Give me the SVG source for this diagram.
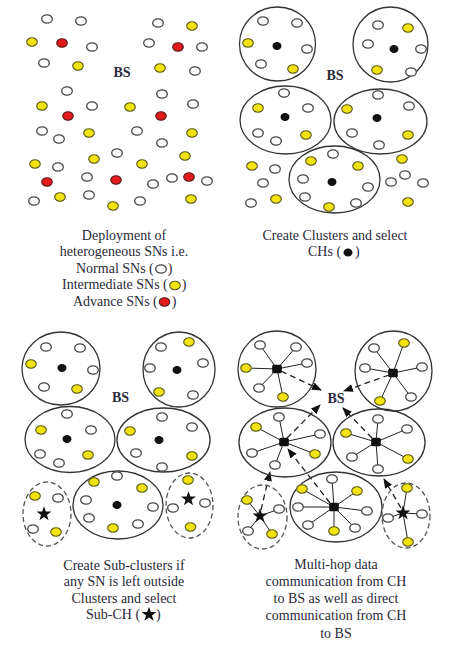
<svg xmlns="http://www.w3.org/2000/svg" xmlns:xlink="http://www.w3.org/1999/xlink" width="450" height="649" viewBox="0 0 450 649">
<style>
.w{fill:#fff;stroke:#484848;stroke-width:1.3}
.y{fill:#f3e310;stroke:#5c5a1c;stroke-width:1.1}
.r{fill:#e21a1a;stroke:#5a1c1c;stroke-width:1.1}
.k{fill:#111}
.cl{fill:none;stroke:#333;stroke-width:1.3}
.sub{fill:none;stroke:#555;stroke-width:1.3;stroke-dasharray:5 3}
.sp{stroke:#222;stroke-width:1;fill:none}
.da{stroke:#222;stroke-width:1.3;stroke-dasharray:6 4;fill:none;marker-end:url(#ah)}
text{font-family:"Liberation Serif","Times New Roman",serif;font-size:14px;fill:#2a2a3a}
.bs{font-weight:bold;text-anchor:middle}
.c{text-anchor:middle}
</style>
<defs>
<ellipse id="W" class="w" rx="5.3" ry="4.2"/>
<ellipse id="Y" class="y" rx="5.3" ry="4.2"/>
<ellipse id="R" class="r" rx="5.3" ry="4.2"/>
<ellipse id="K" class="k" rx="4.5" ry="4"/>
<rect id="Q" class="k" x="-4.8" y="-4.2" width="9.6" height="8.4" rx="1.5"/>
<path id="S" class="k" d="M0,-7.8L1.83,-2.52L7.42,-2.41L2.97,0.96L4.58,6.31L0,3.12L-4.58,6.31L-2.97,0.96L-7.42,-2.41L-1.83,-2.52Z"/>
<marker id="ah" markerUnits="userSpaceOnUse" markerWidth="10" markerHeight="8" refX="9" refY="4" orient="auto" viewBox="0 0 10 8"><path d="M0,0L10,4L0,8Z" fill="#111"/></marker>
</defs>
<rect width="450" height="649" fill="#fff"/>

<!-- Panel 1: deployment -->
<g id="panel1">
<text class="bs" x="122" y="77">BS</text>
<g id="p1-nodes">
<use xlink:href="#W" x="47" y="19"/><use xlink:href="#W" x="81" y="21"/><use xlink:href="#W" x="158" y="23"/><use xlink:href="#Y" x="192" y="26"/>
<use xlink:href="#Y" x="32" y="42"/><use xlink:href="#R" x="62" y="43"/><use xlink:href="#W" x="92" y="47"/><use xlink:href="#W" x="149" y="43"/><use xlink:href="#R" x="178" y="47"/><use xlink:href="#W" x="202" y="47"/>
<use xlink:href="#W" x="44" y="63"/><use xlink:href="#Y" x="78" y="66"/><use xlink:href="#Y" x="160" y="68"/><use xlink:href="#W" x="195" y="71"/>
<use xlink:href="#W" x="67" y="91"/><use xlink:href="#W" x="162" y="94"/>
<use xlink:href="#Y" x="42" y="106"/><use xlink:href="#W" x="92" y="106"/><use xlink:href="#Y" x="130" y="107"/><use xlink:href="#W" x="193" y="104"/>
<use xlink:href="#R" x="68" y="116"/><use xlink:href="#R" x="161" y="116"/>
<use xlink:href="#W" x="42" y="131"/><use xlink:href="#W" x="59" y="139"/><use xlink:href="#Y" x="89" y="133"/><use xlink:href="#W" x="137" y="131"/><use xlink:href="#Y" x="192" y="133"/>
<use xlink:href="#W" x="162" y="143"/>
<use xlink:href="#W" x="117" y="153"/><use xlink:href="#Y" x="94" y="159"/><use xlink:href="#Y" x="185" y="156"/>
<use xlink:href="#Y" x="35" y="164"/><use xlink:href="#W" x="58" y="167"/><use xlink:href="#Y" x="142" y="164"/>
<use xlink:href="#W" x="87" y="177"/><use xlink:href="#R" x="47" y="182"/><use xlink:href="#R" x="116" y="180"/><use xlink:href="#W" x="153" y="184"/><use xlink:href="#W" x="172" y="178"/><use xlink:href="#R" x="189" y="177"/><use xlink:href="#W" x="207" y="181"/>
<use xlink:href="#W" x="34" y="201"/><use xlink:href="#Y" x="60" y="197"/><use xlink:href="#W" x="89" y="195"/><use xlink:href="#Y" x="113" y="206"/><use xlink:href="#W" x="140" y="201"/><use xlink:href="#Y" x="191" y="199"/>
</g>
<g id="caption1">
<text class="c" x="124" y="240">Deployment of</text>
<text class="c" x="124" y="256">heterogeneous SNs i.e.</text>
<text x="76" y="273">Normal SNs (<tspan dx="14">)</tspan></text>
<use xlink:href="#W" x="161" y="269"/>
<text x="62" y="289">Intermediate SNs (<tspan dx="14">)</tspan></text>
<use xlink:href="#Y" x="175" y="285.5"/>
<text x="73" y="306">Advance SNs (<tspan dx="14">)</tspan></text>
<use xlink:href="#R" x="164.5" y="302"/>
</g>
</g>

<!-- Panel 2: clusters -->
<g id="panel2">
<text class="bs" x="335" y="80">BS</text>
<g id="p2-c1"><ellipse class="cl" cx="277.5" cy="44" rx="38" ry="37"/>
<use xlink:href="#W" x="263" y="21"/><use xlink:href="#W" x="297" y="23"/><use xlink:href="#Y" x="248" y="43"/><use xlink:href="#K" x="277" y="46"/><use xlink:href="#W" x="307" y="49"/><use xlink:href="#W" x="261" y="64"/><use xlink:href="#Y" x="293" y="69"/></g>
<g id="p2-c2"><ellipse class="cl" cx="390.5" cy="44.5" rx="37.5" ry="37.5"/>
<use xlink:href="#W" x="378" y="25"/><use xlink:href="#Y" x="408" y="28"/><use xlink:href="#W" x="368" y="44"/><use xlink:href="#K" x="394" y="49"/><use xlink:href="#W" x="421" y="49"/><use xlink:href="#Y" x="377" y="70"/><use xlink:href="#W" x="411" y="72"/></g>
<g id="p2-c3"><ellipse class="cl" cx="285.5" cy="120" rx="45.5" ry="34"/>
<use xlink:href="#W" x="284" y="93"/><use xlink:href="#Y" x="258" y="108"/><use xlink:href="#W" x="308" y="108"/><use xlink:href="#K" x="285" y="117"/><use xlink:href="#W" x="258" y="133"/><use xlink:href="#W" x="276" y="141"/><use xlink:href="#Y" x="306" y="135"/></g>
<g id="p2-c4"><ellipse class="cl" cx="380.5" cy="121.5" rx="46.5" ry="32.5"/>
<use xlink:href="#W" x="378" y="95"/><use xlink:href="#W" x="409" y="106"/><use xlink:href="#Y" x="347" y="109"/><use xlink:href="#K" x="377" y="118"/><use xlink:href="#W" x="352" y="133"/><use xlink:href="#Y" x="408" y="135"/><use xlink:href="#W" x="379" y="145"/></g>
<g id="p2-c5"><ellipse class="cl" cx="334.5" cy="179.5" rx="45.5" ry="33.5"/>
<use xlink:href="#Y" x="311" y="161"/><use xlink:href="#W" x="333" y="154"/><use xlink:href="#Y" x="358" y="166"/><use xlink:href="#W" x="303" y="179"/><use xlink:href="#K" x="332" y="182"/><use xlink:href="#W" x="368" y="187"/><use xlink:href="#W" x="305" y="197"/><use xlink:href="#Y" x="329" y="207"/><use xlink:href="#W" x="356" y="203"/></g>
<g id="p2-outside">
<use xlink:href="#Y" x="252" y="166"/><use xlink:href="#W" x="275" y="169"/><use xlink:href="#W" x="263" y="183"/><use xlink:href="#W" x="251" y="203"/><use xlink:href="#Y" x="276" y="199"/>
<use xlink:href="#Y" x="402" y="159"/><use xlink:href="#W" x="405" y="175"/><use xlink:href="#W" x="391" y="182"/><use xlink:href="#W" x="423" y="183"/><use xlink:href="#Y" x="408" y="202"/>
</g>
<g id="caption2">
<text class="c" x="335" y="240">Create Clusters and select</text>
<text x="308" y="256">CHs (<tspan dx="14">)</tspan></text>
<use xlink:href="#K" x="348" y="252.5"/>
</g>
</g>

<!-- Panel 3: sub-clusters -->
<g id="panel3">
<text class="bs" x="120.5" y="402">BS</text>
<g id="p3-cA"><ellipse class="cl" cx="61" cy="368.5" rx="39" ry="36.5"/>
<use xlink:href="#W" x="46" y="347"/><use xlink:href="#W" x="80" y="348"/><use xlink:href="#Y" x="31" y="364"/><use xlink:href="#K" x="62" y="368"/><use xlink:href="#W" x="93" y="370"/><use xlink:href="#W" x="44" y="387"/><use xlink:href="#Y" x="77" y="389"/></g>
<g id="p3-cB"><ellipse class="cl" cx="179" cy="369.5" rx="36" ry="37.5"/>
<use xlink:href="#W" x="161" y="347"/><use xlink:href="#Y" x="189" y="342"/><use xlink:href="#W" x="150" y="368"/><use xlink:href="#K" x="177" y="370"/><use xlink:href="#W" x="203" y="363"/><use xlink:href="#Y" x="159" y="392"/><use xlink:href="#W" x="193" y="395"/></g>
<g id="p3-cC"><ellipse class="cl" cx="70" cy="439.5" rx="45" ry="33"/>
<use xlink:href="#W" x="67" y="414"/><use xlink:href="#Y" x="41" y="430"/><use xlink:href="#W" x="91" y="430"/><use xlink:href="#K" x="67" y="439"/><use xlink:href="#W" x="40" y="454"/><use xlink:href="#W" x="59" y="463"/><use xlink:href="#Y" x="88" y="455"/></g>
<g id="p3-cD"><ellipse class="cl" cx="163.5" cy="440" rx="46.5" ry="32"/>
<use xlink:href="#W" x="162" y="417"/><use xlink:href="#W" x="192" y="427"/><use xlink:href="#Y" x="130" y="431"/><use xlink:href="#K" x="159" y="440"/><use xlink:href="#W" x="136" y="453"/><use xlink:href="#Y" x="192" y="456"/><use xlink:href="#W" x="162" y="467"/></g>
<g id="p3-cE"><ellipse class="cl" cx="118" cy="505" rx="45" ry="34"/>
<use xlink:href="#Y" x="94" y="482"/><use xlink:href="#W" x="117" y="476"/><use xlink:href="#Y" x="142" y="488"/><use xlink:href="#W" x="86" y="500"/><use xlink:href="#K" x="117" y="505"/><use xlink:href="#W" x="153" y="507"/><use xlink:href="#W" x="89" y="518"/><use xlink:href="#Y" x="113" y="528"/><use xlink:href="#W" x="138" y="524"/></g>
<g id="p3-sF"><ellipse class="sub" cx="47" cy="514" rx="24" ry="32"/>
<use xlink:href="#Y" x="35" y="496"/><use xlink:href="#W" x="58" y="498"/><use xlink:href="#S" x="44" y="514"/><use xlink:href="#W" x="33" y="529"/><use xlink:href="#Y" x="56" y="532"/></g>
<g id="p3-sG"><ellipse class="sub" cx="189.5" cy="505.5" rx="23.5" ry="32.5"/>
<use xlink:href="#Y" x="188" y="480"/><use xlink:href="#S" x="188.5" y="499"/><use xlink:href="#W" x="173" y="508"/><use xlink:href="#W" x="205" y="503"/><use xlink:href="#Y" x="190.5" y="527"/></g>
<g id="caption3">
<text class="c" x="124" y="570">Create Sub-clusters if</text>
<text class="c" x="124" y="586">any SN is left outside</text>
<text class="c" x="124" y="603">Clusters and select</text>
<text x="86" y="619">Sub-CH (<tspan dx="16">)</tspan></text>
<use xlink:href="#S" x="149" y="614.5"/>
</g>
</g>

<!-- Panel 4: communication -->
<g id="connectors">
<g id="spokes">
<path class="sp" d="M277,369L260,345M277,369L296,347M277,369L246,368M277,369L307,363M277,369L259,388M277,369L283,397"/>
<path class="sp" d="M393,373L374,348M393,373L404,343M393,373L365,368M393,373L422,367M393,373L380,401M393,373L411,397"/>
<path class="sp" d="M284,442L279,417M284,442L256,427M284,442L320,434M284,442L252,453M284,442L315,454M284,442L275,465"/>
<path class="sp" d="M376,442L378,419M376,442L346,433M376,442L407,429M376,442L352,457M376,442L408,459M376,442L378,469"/>
<path class="sp" d="M334,507L302,489M334,507L332,479M334,507L357,491M334,507L298,507M334,507L367,511M334,507L308,525M334,507L334,531M334,507L355,528"/>
<path class="sp" d="M260,516L247,500M260,516L279,509M260,516L248,531M260,516L272,534"/>
<path class="sp" d="M403,513L407,488M403,513L388,518M403,513L422,514M403,513L408,542"/>
</g>
<g id="arrows">
<path class="da" d="M281,371L321,390"/>
<path class="da" d="M389,375L344,391"/>
<path class="da" d="M287,438L320,405"/>
<path class="da" d="M372,438L343,408"/>
<path class="da" d="M330,503L288,449"/>
<path class="da" d="M261,510L270,472"/>
<path class="da" d="M401,508L384,479"/>
</g>
</g>
<g id="panel4">
<text class="bs" x="336" y="403">BS</text>
<g id="p4-cH"><ellipse class="cl" cx="277" cy="369" rx="39" ry="38"/>
<use xlink:href="#W" x="260" y="345"/><use xlink:href="#W" x="296" y="347"/><use xlink:href="#Y" x="246" y="368"/><use xlink:href="#W" x="307" y="363"/><use xlink:href="#W" x="259" y="388"/><use xlink:href="#Y" x="283" y="397"/><use xlink:href="#Q" x="277" y="369"/></g>
<g id="p4-cI"><ellipse class="cl" cx="393.5" cy="371" rx="38.5" ry="40"/>
<use xlink:href="#W" x="374" y="348"/><use xlink:href="#Y" x="404" y="343"/><use xlink:href="#W" x="365" y="368"/><use xlink:href="#W" x="422" y="367"/><use xlink:href="#Y" x="380" y="401"/><use xlink:href="#W" x="411" y="397"/><use xlink:href="#Q" x="393" y="373"/></g>
<g id="p4-cJ"><ellipse class="cl" cx="285" cy="442.5" rx="46" ry="34.5"/>
<use xlink:href="#W" x="279" y="417"/><use xlink:href="#Y" x="256" y="427"/><use xlink:href="#W" x="320" y="434"/><use xlink:href="#W" x="252" y="453"/><use xlink:href="#Y" x="315" y="454"/><use xlink:href="#W" x="275" y="465"/><use xlink:href="#Q" x="284" y="442"/></g>
<g id="p4-cK"><ellipse class="cl" cx="379" cy="442.5" rx="46" ry="33.5"/>
<use xlink:href="#W" x="378" y="419"/><use xlink:href="#Y" x="346" y="433"/><use xlink:href="#W" x="407" y="429"/><use xlink:href="#W" x="352" y="457"/><use xlink:href="#Y" x="408" y="459"/><use xlink:href="#W" x="378" y="469"/><use xlink:href="#Q" x="376" y="442"/></g>
<g id="p4-cL"><ellipse class="cl" cx="336" cy="507" rx="46" ry="35"/>
<use xlink:href="#Y" x="302" y="489"/><use xlink:href="#W" x="332" y="479"/><use xlink:href="#Y" x="357" y="491"/><use xlink:href="#W" x="298" y="507"/><use xlink:href="#W" x="367" y="511"/><use xlink:href="#W" x="308" y="525"/><use xlink:href="#Y" x="334" y="531"/><use xlink:href="#W" x="355" y="528"/><use xlink:href="#Q" x="334" y="507"/></g>
<g id="p4-sM"><ellipse class="sub" cx="262.5" cy="517" rx="24.5" ry="32"/>
<use xlink:href="#Y" x="247" y="500"/><use xlink:href="#W" x="279" y="509"/><use xlink:href="#W" x="248" y="531"/><use xlink:href="#Y" x="272" y="534"/><use xlink:href="#S" x="260" y="516"/></g>
<g id="p4-sN"><ellipse class="sub" cx="406" cy="515.5" rx="24" ry="32.5"/>
<use xlink:href="#Y" x="407" y="488"/><use xlink:href="#W" x="388" y="518"/><use xlink:href="#W" x="422" y="514"/><use xlink:href="#Y" x="408" y="542"/><use xlink:href="#S" x="403" y="513"/></g>
<g id="caption4">
<text class="c" x="336" y="569">Multi-hop data</text>
<text class="c" x="336" y="586">communication from CH</text>
<text class="c" x="336" y="603">to BS as well as direct</text>
<text class="c" x="336" y="620">communication from CH</text>
<text class="c" x="336" y="638">to BS</text>
</g>
</g>
</svg>
